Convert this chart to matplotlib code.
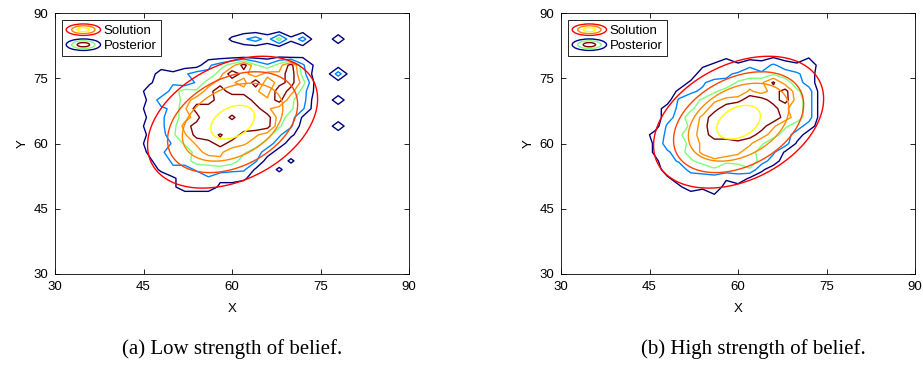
import numpy as np
import matplotlib.pyplot as plt
from matplotlib.patches import Ellipse
from matplotlib.legend_handler import HandlerBase
from matplotlib.lines import Line2D

plt.rcParams['font.family'] = ['Liberation Sans', 'DejaVu Sans']

# solution: gaussian, contoured at fractions of its peak
sol_mean = [60.1, 64.9]
sol_cov = [[64.5, 24.0], [24.0, 71.3]]
sol_levels = [0.2, 0.39, 0.57, 0.9]

# posterior histograms: density per 2x2 cell (base-36 digit)
# columns x = 44..80, rows y = 86 down to 48
bin_x = np.arange(44, 81, 2)
bin_y = np.arange(86, 47, -2)
post_low = [
    "0000000000000000000",
    "0000000024639260030",
    "0000000000000000000",
    "0000000000001010000",
    "000000469f859f51000",
    "00324659gc8cbg60060",
    "0134259cb9g8cf91000",
    "032698cgbcb9gc61000",
    "02659cbgigcbf860030",
    "0345afgiigfb9850000",
    "02469ciicigf9610000",
    "0346cfgiiggf8500030",
    "0237afgdgcb95200000",
    "03258bcfcb963000000",
    "024659cb98630000000",
    "0135698a96500200000",
    "0024357655102000000",
    "0001324232000000000",
    "0001323100000000000",
    "0000010000000000000",
]
post_high = [
    "0000000000000000000",
    "0000000000000000000",
    "0000000000000000000",
    "0000000100010010000",
    "0000012324353240000",
    "0000032456576530000",
    "0000246589ae9630000",
    "000245798b9cf860000",
    "000568abcgfcf960000",
    "003579cgiigfb960000",
    "00369bgiiiigc960000",
    "00568cgiiifb8630000",
    "03579cfghfc96300000",
    "02659bcbcb856100000",
    "02469bcdb9651000000",
    "013579a89a630000000",
    "0032657657200000000",
    "0013243241000000000",
    "0001324000000000000",
    "0000001000000000000",
]
post_levels = [1.5, 4.5, 7.5, 10.5, 13.5]

captions = ['(a) Low strength of belief.', '(b) High strength of belief.']
ticks = [30, 45, 60, 75, 90]


class RingHandler(HandlerBase):
    def __init__(self, colors):
        super().__init__()
        self.colors = colors

    def create_artists(self, legend, orig_handle, xdescent, ydescent,
                       width, height, fontsize, trans):
        cx = width / 2 - xdescent
        cy = height / 2 - ydescent
        arts = []
        for k, c in enumerate(self.colors):
            f = 1 - 0.32 * k
            arts.append(Ellipse((cx, cy), width * f, height * 1.05 * f,
                                fill=False, edgecolor=c, lw=1.0, transform=trans))
        return arts


def solution_grid():
    gx, gy = np.meshgrid(np.linspace(30, 90, 400), np.linspace(30, 90, 400))
    d = np.stack([gx - sol_mean[0], gy - sol_mean[1]], axis=-1)
    inv = np.linalg.inv(np.array(sol_cov))
    m = np.einsum('...i,ij,...j->...', d, inv, d)
    return gx, gy, np.exp(-0.5 * m)


fig = plt.figure(figsize=(9.23, 3.65), dpi=100)
axes = [fig.add_axes([55 / 923, 91 / 365, 354 / 923, 261 / 365]),
        fig.add_axes([561 / 923, 91 / 365, 354 / 923, 261 / 365])]

gx, gy, sol = solution_grid()
for ax, grid, cap, cx in zip(axes, [post_low, post_high], captions, [232, 753]):
    z = np.array([[int(c, 36) for c in row] for row in grid], dtype=float)
    ax.contour(bin_x, bin_y, z, levels=post_levels, cmap='jet', linewidths=1.0)
    ax.contour(gx, gy, sol, levels=sol_levels, cmap='autumn', linewidths=1.0)

    ax.set_xlim(30, 90)
    ax.set_ylim(30, 90)
    ax.set_xticks(ticks)
    ax.set_yticks(ticks)
    ax.tick_params(direction='in', top=True, right=True, length=3.5,
                   labelsize=9.5, width=0.6, pad=5)
    for s in ax.spines.values():
        s.set_linewidth(0.6)
    ax.set_xlabel('X', fontsize=9.5, labelpad=7)
    ax.set_ylabel('Y', fontsize=9.5, labelpad=3)

    h1 = Line2D([], [])
    h2 = Line2D([], [])
    leg = ax.legend([h1, h2], ['Solution', 'Posterior'],
                    handler_map={h1: RingHandler(['#ff0000', '#ff8000', '#ffff00']),
                                 h2: RingHandler(['#00008f', '#80ff80', '#800000'])},
                    loc='upper left', fontsize=9.5, fancybox=False, framealpha=1,
                    edgecolor='black', handlelength=2.6, handleheight=0.9,
                    borderpad=0.3, handletextpad=0.25, labelspacing=0.15,
                    borderaxespad=0.55)
    leg.get_frame().set_linewidth(0.6)

    fig.text(cx / 923, 1 - 349 / 365, cap, ha='center', va='center',
             fontsize=15, family=['Liberation Serif', 'DejaVu Serif'])

fig.savefig('out.png', dpi=100)
